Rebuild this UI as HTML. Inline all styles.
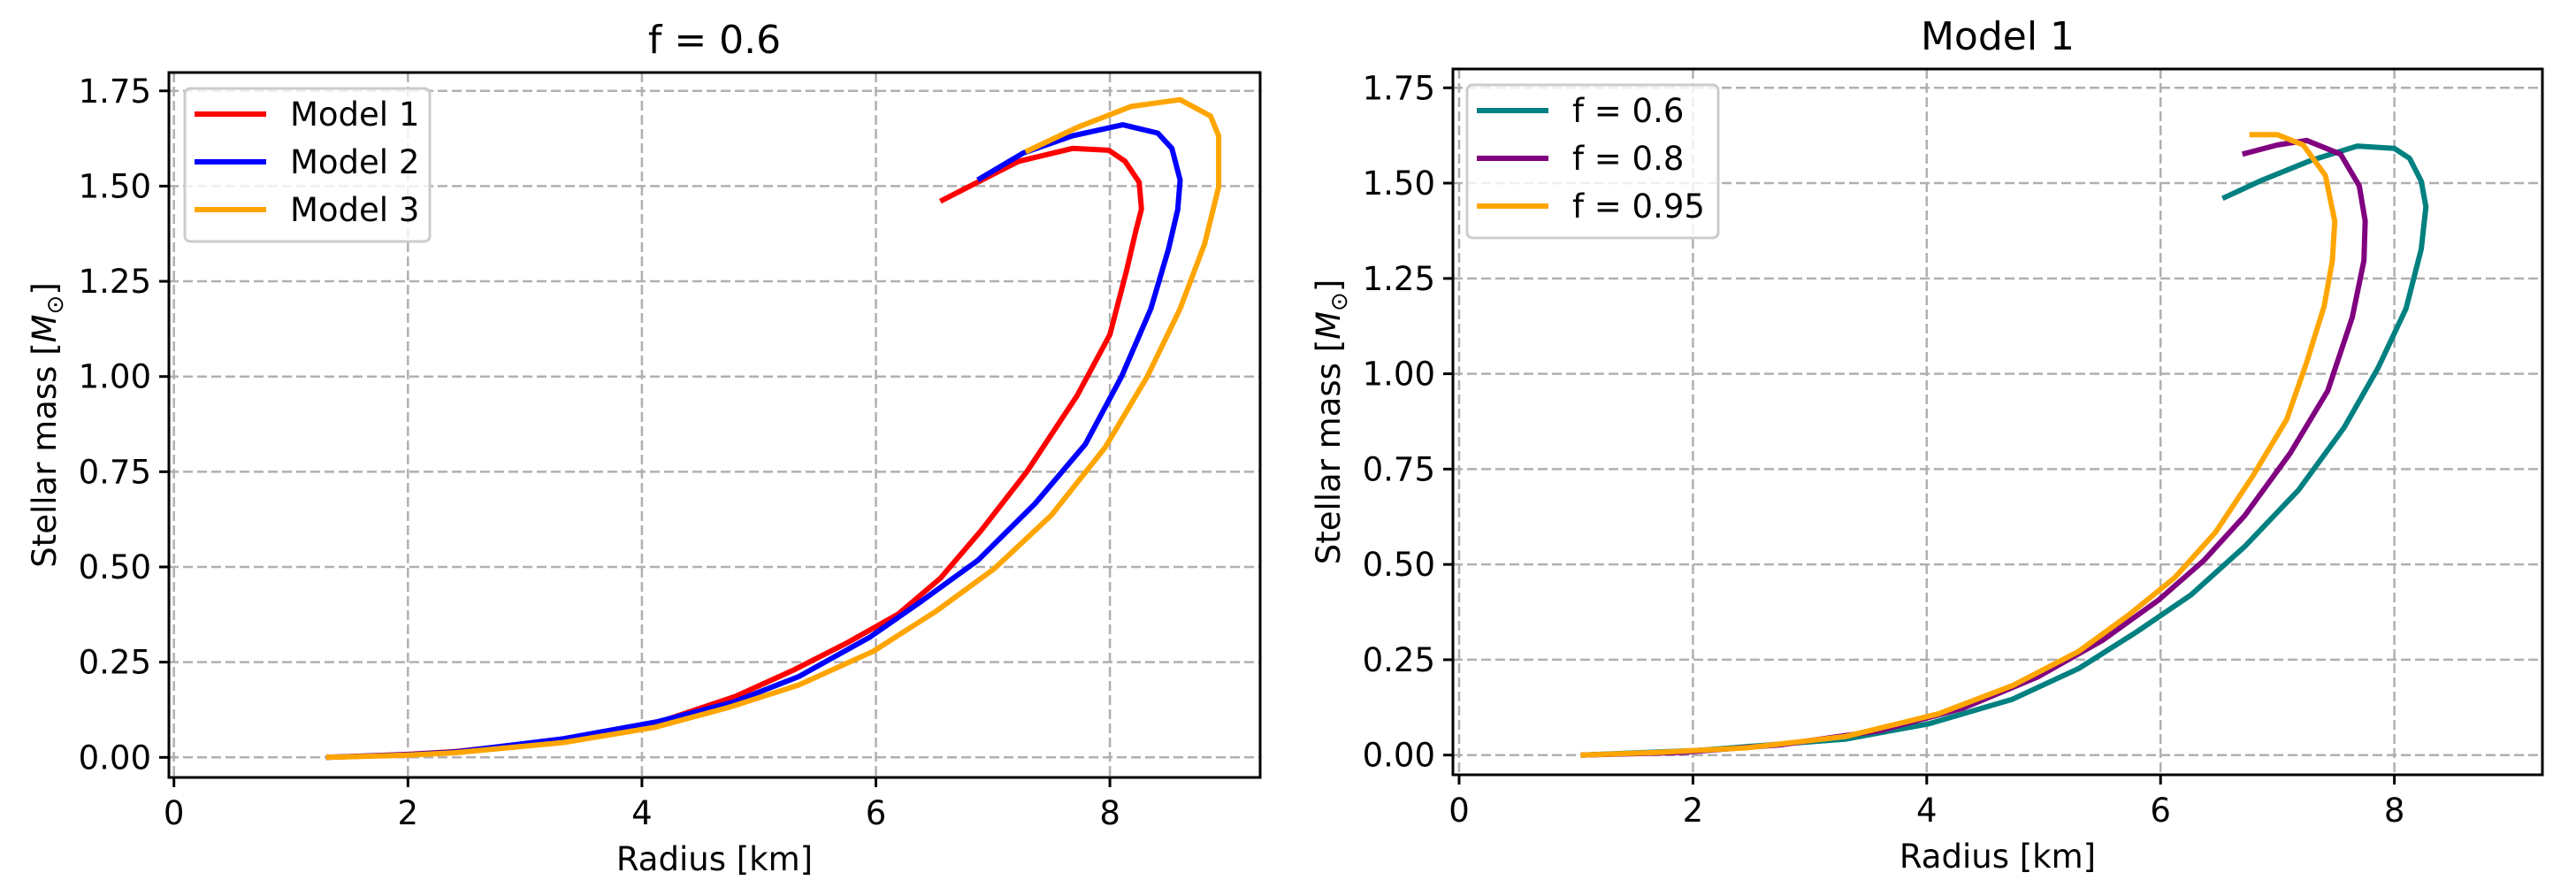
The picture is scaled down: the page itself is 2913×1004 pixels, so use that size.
<!DOCTYPE html>
<html><head><meta charset="utf-8"><style>
html,body{margin:0;padding:0;background:#fff;}
svg{display:block;font-family:"DejaVu Sans","Liberation Sans",sans-serif;}
</style></head><body>
<svg id="chart" width="2913" height="1004" viewBox="0 0 2913 1004" xmlns="http://www.w3.org/2000/svg"></svg>
<script>
const xTicks = [0, 2, 4, 6, 8];
const yTicks = [0, 0.25, 0.5, 0.75, 1.0, 1.25, 1.5, 1.75];
const yTickLabels = ["0.00","0.25","0.50","0.75","1.00","1.25","1.50","1.75"];

const m1R = [1.3,2.0,2.4,3.3,4.11,4.8,5.3,5.75,6.19,6.55,6.9,7.29,7.72,8.0,8.14,8.22,8.27,8.25,8.13,7.99,7.68,7.22,6.55];
const m1M = [0,0.008,0.015,0.045,0.089,0.16,0.23,0.30,0.376,0.47,0.596,0.75,0.95,1.11,1.275,1.38,1.44,1.51,1.565,1.594,1.599,1.565,1.46];
const m2R = [1.3,2.0,2.4,3.33,4.14,4.78,5.34,5.95,6.37,6.87,7.36,7.79,8.1,8.35,8.5,8.58,8.6,8.53,8.41,8.11,7.68,7.26,6.87];
const m2M = [0,0.007,0.014,0.049,0.094,0.145,0.212,0.316,0.406,0.517,0.666,0.822,1.0,1.178,1.334,1.438,1.516,1.599,1.639,1.661,1.632,1.587,1.516];
const m3R = [1.3,2.0,2.4,3.33,4.11,4.74,5.34,5.98,6.51,7.01,7.5,7.96,8.32,8.6,8.81,8.93,8.93,8.86,8.6,8.18,7.72,7.28];
const m3M = [0,0.006,0.012,0.039,0.079,0.131,0.19,0.279,0.383,0.495,0.636,0.814,1.0,1.178,1.349,1.498,1.632,1.684,1.727,1.709,1.654,1.59];

const f06R = [1.04,2.04,3.31,4.02,4.73,5.3,5.8,6.26,6.72,7.18,7.57,7.86,8.1,8.23,8.27,8.23,8.13,8.0,7.68,7.29,6.87,6.53];
const f06M = [0,0.012,0.042,0.082,0.146,0.227,0.324,0.42,0.547,0.695,0.859,1.015,1.171,1.327,1.438,1.505,1.565,1.591,1.597,1.56,1.508,1.46];
const f08R = [1.04,1.9,2.75,3.6,4.31,4.95,5.51,5.98,6.37,6.72,7.11,7.43,7.64,7.74,7.75,7.7,7.54,7.25,7.0,6.7];
const f08M = [0,0.007,0.027,0.064,0.123,0.205,0.302,0.406,0.51,0.628,0.792,0.955,1.148,1.297,1.401,1.493,1.576,1.612,1.6,1.576];
const f095R = [1.04,1.7,2.46,3.31,4.1,4.74,5.3,5.73,6.12,6.47,6.79,7.08,7.25,7.4,7.47,7.49,7.41,7.22,7.0,6.76];
const f095M = [0,0.007,0.019,0.049,0.108,0.183,0.272,0.368,0.465,0.584,0.732,0.881,1.03,1.178,1.297,1.4,1.52,1.6,1.627,1.627];

const NS = "http://www.w3.org/2000/svg";
const svg = document.getElementById("chart");
function mk(tag, attrs, parent){
  const e = document.createElementNS(NS, tag);
  for (const k in attrs) e.setAttribute(k, attrs[k]);
  (parent||svg).appendChild(e);
  return e;
}

function panel(cfg){
  const g = mk("g", {});
  
  
  const X = v => cfg.x0 + v * cfg.kx;
  const Y = v => cfg.y0 - v * cfg.ky;
  // grid
  xTicks.forEach(t => {
    const l = mk("line", {x1:X(t), x2:X(t), y1:cfg.top, y2:cfg.bottom, stroke:"#b0b0b0", "stroke-width":2.5, "stroke-dasharray":"11 5"}, g);
    
    
  });
  yTicks.forEach(t => {
    const l = mk("line", {x1:cfg.left, x2:cfg.right, y1:Y(t), y2:Y(t), stroke:"#b0b0b0", "stroke-width":2.5, "stroke-dasharray":"11 5"}, g);
    
    
  });
  // series
  cfg.series.forEach(s => {
    const d = s.r.map((r,i) => (i?"L":"M") + X(r).toFixed(1) + " " + Y(s.m[i]).toFixed(1)).join(" ");
    const p = mk("path", {d:d, fill:"none", stroke:s.color, "stroke-width":6, "stroke-linejoin":"round"}, g);
    
    
  });
  // frame
  const fr = mk("rect", {x:cfg.left, y:cfg.top, width:cfg.right-cfg.left, height:cfg.bottom-cfg.top, fill:"none", stroke:"#000", "stroke-width":3}, g);
  
  
  // ticks
  xTicks.forEach(t => {
    const l = mk("line", {x1:X(t), x2:X(t), y1:cfg.bottom, y2:cfg.bottom+11, stroke:"#000", "stroke-width":3}, g);
    
    
    const tx = mk("text", {x:X(t), y:cfg.bottom+53, "font-size":37, "text-anchor":"middle"}, g);
    tx.textContent = String(t);
    
    
  });
  yTicks.forEach((t,i) => {
    const l = mk("line", {x1:cfg.left-11, x2:cfg.left, y1:Y(t), y2:Y(t), stroke:"#000", "stroke-width":3}, g);
    
    
    const tx = mk("text", {x:cfg.left-20, y:Y(t)+13, "font-size":37, "text-anchor":"end"}, g);
    tx.textContent = yTickLabels[i];
    
    
  });
  const cx = (cfg.left+cfg.right)/2;
  const title = mk("text", {x:cx, y:cfg.top-22, "font-size":44, "text-anchor":"middle"}, g);
  title.textContent = cfg.title;
  
  
  const xl = mk("text", {x:cx, y:cfg.bottom+105, "font-size":37, "text-anchor":"middle"}, g);
  xl.textContent = "Radius [km]";
  
  
  const cy = (cfg.top+cfg.bottom)/2;
  const yl = mk("text", {x:0, y:0, "font-size":37, "text-anchor":"middle", transform:`translate(${cfg.left-128},${cy}) rotate(-90)`}, g);
  yl.innerHTML = 'Stellar mass [<tspan font-style="italic">M</tspan><tspan font-size="26" dy="8">⊙</tspan><tspan dy="-8">]</tspan>';
  
  
  // legend
  const lg = mk("g", {}, g);
  
  
  const L = cfg.legend;
  mk("rect", {x:L.x, y:L.y, width:L.w, height:173, rx:6, fill:"rgba(255,255,255,0.8)", stroke:"#cccccc", "stroke-width":3}, lg);
  cfg.series.forEach((s,i) => {
    const yy = L.y + 29 + i*54;
    const hl = mk("line", {x1:L.x+11, x2:L.x+92, y1:yy, y2:yy, stroke:s.color, "stroke-width":6}, lg);
    
    
    const t = mk("text", {x:L.x+119, y:yy+13, "font-size":37}, lg);
    t.textContent = s.label;
    
    
  });
}

panel({name:"left-panel", title:"f = 0.6", left:191, right:1425, top:82, bottom:879,
  x0:196.7, kx:132.3, y0:856.3, ky:430.6, legend:{x:209, y:100, w:277},
  series:[
    {id:"line-model-1", label:"Model 1", color:"#ff0000", r:m1R, m:m1M},
    {id:"line-model-2", label:"Model 2", color:"#0000ff", r:m2R, m:m2M},
    {id:"line-model-3", label:"Model 3", color:"#ffa500", r:m3R, m:m3M}
  ]});
panel({name:"right-panel", title:"Model 1", left:1643, right:2875, top:78, bottom:876,
  x0:1650, kx:132.2, y0:853.7, ky:431.1, legend:{x:1659, y:96, w:284},
  series:[
    {id:"line-f-0.6", label:"f = 0.6", color:"#008080", r:f06R, m:f06M},
    {id:"line-f-0.8", label:"f = 0.8", color:"#800080", r:f08R, m:f08M},
    {id:"line-f-0.95", label:"f = 0.95", color:"#ffa500", r:f095R, m:f095M}
  ]});
</script>
</body></html>
